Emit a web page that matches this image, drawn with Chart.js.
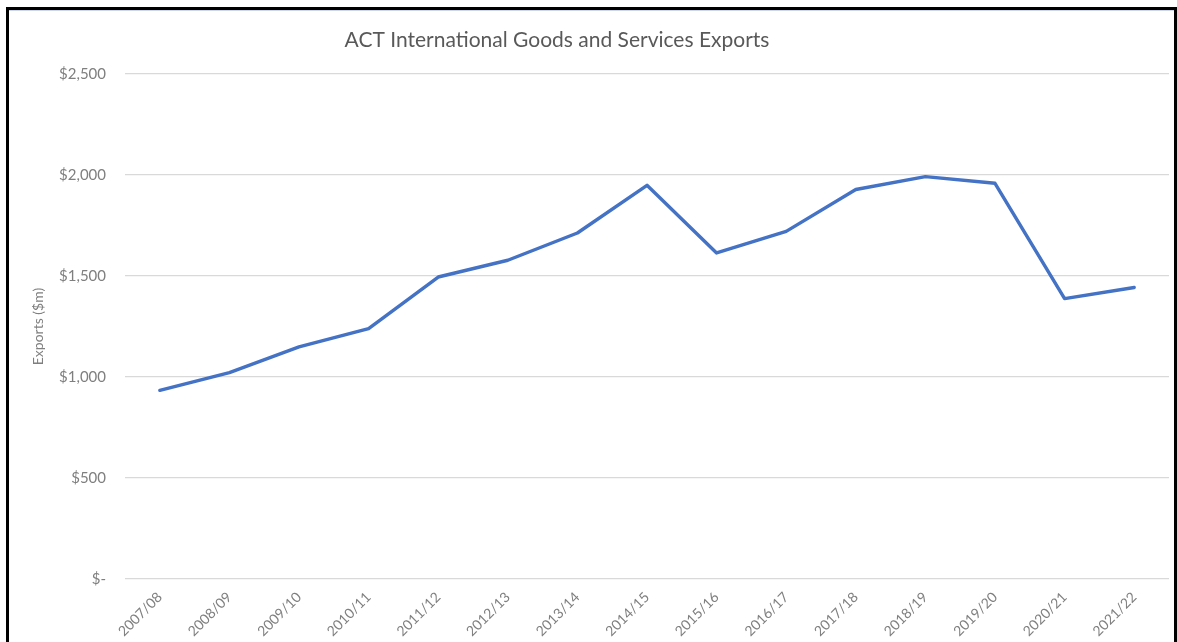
<!DOCTYPE html>
<html>
<head>
<meta charset="utf-8">
<title>ACT International Goods and Services Exports</title>
<script src="https://cdn.jsdelivr.net/npm/chart.js@4/dist/chart.umd.min.js"></script>
<style>
  html, body { margin: 0; padding: 0; background: #ffffff; overflow: hidden; }
  #wrap { position: relative; width: 1177px; height: 642px; }
  #chart { position: absolute; left: 0; top: 0; }
  #frame {
    position: absolute; left: 6px; top: 7px; width: 1165px; height: 700px;
    border: 3px solid #000000; border-bottom: none;
    box-shadow: inset 0 1px 0 #cdd6ea;
    pointer-events: none;
  }
</style>
</head>
<body>
<div id="wrap">
  <canvas id="chart" width="1177" height="642"></canvas>
  <div id="frame"></div>
</div>
<script>
// Financial years shown along the x axis
const years = [
  '2007/08', '2008/09', '2009/10', '2010/11', '2011/12', '2012/13', '2013/14',
  '2014/15', '2015/16', '2016/17', '2017/18', '2018/19', '2019/20', '2020/21', '2021/22'
];

// ACT international goods and services exports, $m
const exportsMillions = [
  934, 1022, 1149, 1240, 1495, 1578, 1713,
  1949, 1614, 1721, 1928, 1992, 1959, 1388, 1443
];

// Value axis range and step
const yMin = 0;
const yMax = 2500;
const yStep = 500;

const chartTitle = 'ACT International Goods and Services Exports';
const yAxisTitle = 'Exports ($m)';

const FONT = 'Lato, "Open Sans", "DejaVu Sans", sans-serif';

function formatDollars(v) {
  if (v === 0) return '$-';
  return '$' + v.toLocaleString('en-US');
}

// Title drawn slightly left of the canvas centre, as in the workbook layout
const titlePlugin = {
  id: 'sheetTitle',
  afterDraw(chart) {
    const ctx = chart.ctx;
    ctx.save();
    ctx.font = '21px ' + FONT;
    ctx.fillStyle = '#595959';
    ctx.textAlign = 'center';
    ctx.textBaseline = 'middle';
    ctx.fillText(chartTitle, 557, 40);
    ctx.restore();
  }
};

new Chart(document.getElementById('chart'), {
  type: 'line',
  data: {
    labels: years,
    datasets: [{
      label: 'Exports ($m)',
      data: exportsMillions,
      borderColor: '#4472C4',
      backgroundColor: '#4472C4',
      borderWidth: 3.4,
      pointRadius: 0,
      pointHoverRadius: 0,
      tension: 0,
      fill: false,
      borderJoinStyle: 'round',
      borderCapStyle: 'round'
    }]
  },
  options: {
    responsive: false,
    animation: false,
    devicePixelRatio: 1,
    layout: { padding: { left: 26, top: 74, right: 8, bottom: 0 } },
    plugins: {
      legend: { display: false },
      title: { display: false },
      tooltip: { enabled: false }
    },
    scales: {
      x: {
        offset: true,
        grid: { display: false, drawTicks: false },
        border: { display: false },
        ticks: {
          color: '#7f7f7f',
          font: { family: FONT, size: 14 },
          minRotation: 45,
          maxRotation: 45,
          autoSkip: false,
          padding: 10
        },
        afterFit(scale) { scale.height = 63; }
      },
      y: {
        min: yMin,
        max: yMax,
        grid: { color: '#d9d9d9', lineWidth: 1.3, drawTicks: false },
        border: { display: false },
        ticks: {
          stepSize: yStep,
          color: '#7f7f7f',
          font: { family: FONT, size: 15 },
          padding: 19,
          callback: (v) => formatDollars(v)
        },
        title: {
          display: true,
          text: yAxisTitle,
          color: '#7f7f7f',
          font: { family: FONT, size: 14 },
          padding: { top: 4, bottom: 4 }
        },
        afterFit(scale) { scale.width = 99; }
      }
    }
  },
  plugins: [titlePlugin]
});
</script>
</body>
</html>
